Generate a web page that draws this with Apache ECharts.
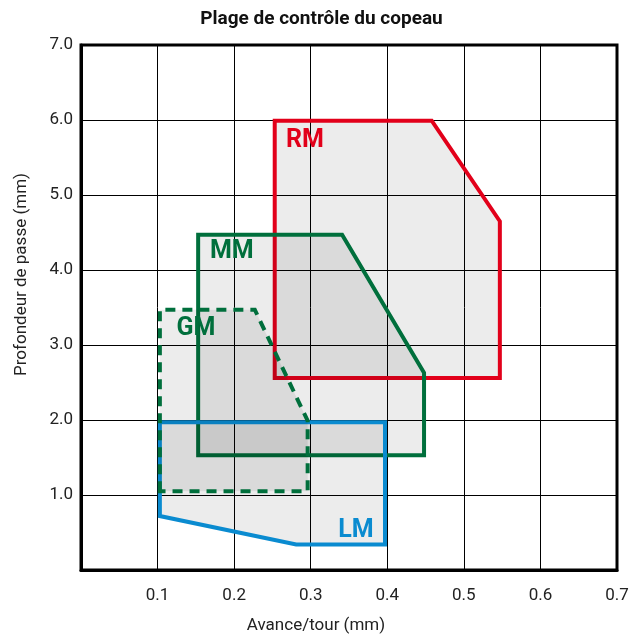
<!DOCTYPE html>
<html>
<head>
<meta charset="utf-8">
<script src="https://cdn.jsdelivr.net/npm/echarts@6/dist/echarts.min.js"></script>
<style>
html,body{margin:0;padding:0;background:#fff;}
#chart{width:643px;height:639px;}
</style>
</head>
<body>
<div id="chart"></div>
<script>
// Zone names
const zoneNames = ['RM', 'MM', 'LM', 'GM'];
// Polygon vertices (feed mm/rev, depth mm)
const rmX = [0.253, 0.253, 0.458, 0.547, 0.547];
const rmY = [2.56, 5.99, 5.99, 4.65, 2.56];
const mmX = [0.153, 0.153, 0.341, 0.448, 0.448];
const mmY = [1.53, 4.47, 4.47, 2.63, 1.53];
const lmX = [0.103, 0.103, 0.397, 0.397, 0.281];
const lmY = [0.72, 1.97, 1.97, 0.34, 0.34];
const gmX = [0.103, 0.103, 0.227, 0.296, 0.296];
const gmY = [1.05, 3.47, 3.47, 1.99, 1.05];
// Label anchor points (data coordinates)
const labelX = [0.2925, 0.197, 0.359, 0.150];
const labelY = [5.72, 4.24, 0.52, 3.22];
// Axis ticks
const xTicks = [0.1, 0.2, 0.3, 0.4, 0.5, 0.6, 0.7];
const yTicks = [1.0, 2.0, 3.0, 4.0, 5.0, 6.0, 7.0];

const colors = ['#e2001a', '#006f3c', '#0a8bd0', '#006f3c'];
const dashed = [false, false, false, true];
const zonesX = [rmX, mmX, lmX, gmX];
const zonesY = [rmY, mmY, lmY, gmY];

const FONT = 'Roboto, "Noto Sans", sans-serif';

function makeSeries(i) {
  return {
    type: 'custom',
    name: zoneNames[i],
    coordinateSystem: 'cartesian2d',
    data: [[zonesX[i][0], zonesY[i][0]]],
    z: 2 + i,
    clip: false,
    silent: true,
    renderItem: function (params, api) {
      const pts = zonesX[i].map((x, k) => api.coord([x, zonesY[i][k]]));
      const lp = api.coord([labelX[i], labelY[i]]);
      return {
        type: 'group',
        children: [
          {
            type: 'polygon',
            shape: { points: pts },
            style: {
              fill: 'rgba(0,0,0,0.075)',
              stroke: colors[i],
              lineWidth: 4,
              lineDash: dashed[i] ? [10, 7] : null,
              lineJoin: 'miter'
            }
          },
          {
            type: 'text',
            x: lp[0],
            y: lp[1],
            style: {
              text: zoneNames[i],
              fill: colors[i],
              font: 'bold 25px ' + FONT,
              align: 'center',
              verticalAlign: 'middle'
            }
          }
        ]
      };
    }
  };
}

const chart = echarts.init(document.getElementById('chart'), null, { renderer: 'canvas' });
chart.setOption({
  animation: false,
  backgroundColor: '#fff',
  title: {
    text: 'Plage de contrôle du copeau',
    left: 'center',
    top: 5,
    textStyle: { fontFamily: FONT, fontWeight: 'bold', fontSize: 19, color: '#111' }
  },
  grid: {
    left: 81, right: 26, top: 45, bottom: 62,
    show: true, borderColor: '#000', borderWidth: 3, backgroundColor: 'transparent'
  },
  xAxis: {
    type: 'value',
    min: 0, max: 0.7, interval: 0.1,
    name: 'Avance/tour (mm)',
    nameLocation: 'middle',
    nameGap: 47,
    nameTextStyle: { fontFamily: FONT, fontSize: 17, color: '#222', padding: [0, 66, 0, 0] },
    axisLine: { show: true, lineStyle: { color: '#000', width: 3 } },
    axisTick: { show: false },
    axisLabel: {
      fontFamily: FONT, fontSize: 17, color: '#222', margin: 17,
      formatter: function (v) {
        const t = xTicks.find(x => Math.abs(x - v) < 1e-6);
        return t === undefined ? '' : t.toFixed(1);
      }
    },
    splitLine: { show: true, lineStyle: { color: '#000', width: 1 } }
  },
  yAxis: {
    type: 'value',
    min: 0, max: 7, interval: 1,
    name: 'Profondeur de passe (mm)',
    nameLocation: 'middle',
    nameGap: 51,
    nameTextStyle: { fontFamily: FONT, fontSize: 17, color: '#222', padding: [0, 0, 0, 66] },
    axisLine: { show: true, lineStyle: { color: '#000', width: 3 } },
    axisTick: { show: false },
    axisLabel: {
      fontFamily: FONT, fontSize: 17, color: '#222', margin: 8,
      formatter: function (v) {
        const t = yTicks.find(y => Math.abs(y - v) < 1e-6);
        return t === undefined ? '' : t.toFixed(1);
      }
    },
    splitLine: { show: true, lineStyle: { color: '#000', width: 1 } }
  },
  series: [0, 1, 2, 3].map(makeSeries)
});
</script>
</body>
</html>
